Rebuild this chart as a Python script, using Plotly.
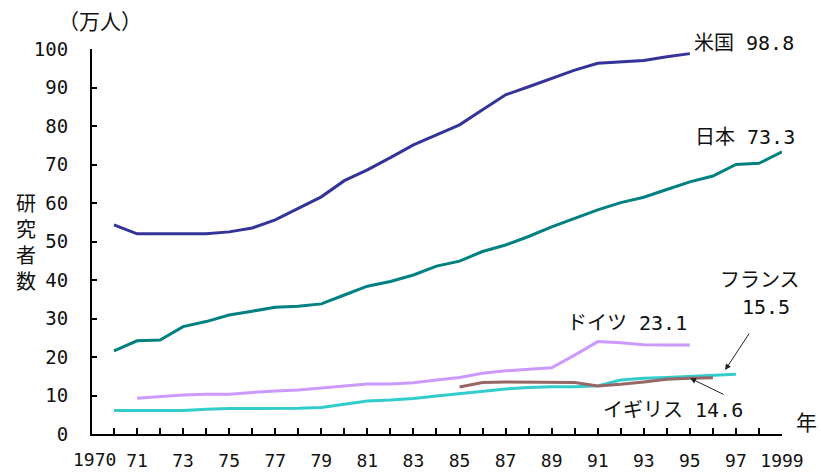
import plotly.graph_objects as go

years_all = list(range(1970, 2000))

us_years = list(range(1970, 1996))
us_vals = [54.3, 52.0, 52.0, 52.0, 52.0, 52.5, 53.5, 55.6, 58.5, 61.6,
           65.8, 68.6, 71.8, 75.1, 77.7, 80.3, 84.2, 88.1, 90.2, 92.4,
           94.5, 96.3, 96.6, 97.0, 98.0, 98.8]

jp_years = list(range(1970, 2000))
jp_vals = [21.6, 24.2, 24.4, 27.9, 29.2, 30.9, 31.9, 32.9, 33.2, 33.8,
           36.1, 38.4, 39.6, 41.3, 43.6, 44.9, 47.4, 49.1, 51.3, 53.8,
           56.0, 58.2, 60.1, 61.5, 63.5, 65.5, 67.0, 70.0, 70.3, 73.3]

de_years = list(range(1971, 1996))
de_vals = [9.3, 9.7, 10.1, 10.3, 10.3, 10.8, 11.2, 11.4, 11.9, 12.5,
           13.0, 13.0, 13.3, 14.0, 14.7, 15.8, 16.4, 16.8, 17.2, 20.5,
           24.0, 23.7, 23.2, 23.1, 23.1]

fr_years = list(range(1970, 1998))
fr_vals = [6.1, 6.1, 6.1, 6.1, 6.4, 6.6, 6.6, 6.6, 6.7, 6.9,
           7.8, 8.6, 8.8, 9.2, 9.9, 10.5, 11.2, 11.7, 12.1, 12.3,
           12.3, 12.5, 14.0, 14.5, 14.7, 15.0, 15.2, 15.5]

uk_years = list(range(1985, 1997))
uk_vals = [12.2, 13.4, 13.5, 13.5, 13.5, 13.4, 12.5, 12.9, 13.5, 14.2, 14.5, 14.6]

y_ticks = list(range(0, 101, 10))
x_label_map = {1971: "71", 1973: "73", 1975: "75",
               1977: "77", 1979: "79", 1981: "81", 1983: "83", 1985: "85",
               1987: "87", 1989: "89", 1991: "91", 1993: "93", 1995: "95",
               1997: "97", 1999: "1999"}
x_ticktext = [x_label_map.get(y, "") for y in years_all]

FONT = "DejaVu Sans Mono, Noto Sans CJK JP"
TXT = "#111111"

fig = go.Figure()
series = [
    (us_years, us_vals, "#333399", "米国"),
    (jp_years, jp_vals, "#008080", "日本"),
    (de_years, de_vals, "#CC99FF", "ドイツ"),
    (fr_years, fr_vals, "#33CCCC", "フランス"),
    (uk_years, uk_vals, "#996666", "イギリス"),
]
for xs, ys, col, name in series:
    fig.add_trace(go.Scatter(x=xs, y=ys, mode="lines", name=name,
                             line=dict(color=col, width=3), showlegend=False))

fig.update_layout(
    width=821, height=474,
    margin=dict(l=92, r=39, t=49, b=40),
    paper_bgcolor="white", plot_bgcolor="white",
    font=dict(family=FONT, size=19, color=TXT),
    xaxis=dict(range=[1969.045, 1999], tickmode="array", tickvals=years_all,
               ticktext=x_ticktext, ticks="inside", ticklen=6, tickwidth=1.5,
               tickcolor="black", showline=True, linecolor="black", linewidth=2,
               showgrid=False, zeroline=False, tickangle=0, ticklabelstandoff=9,
               automargin=False,
               tickfont=dict(family=FONT, size=18, color=TXT)),
    yaxis=dict(range=[0, 100], tickmode="array", tickvals=y_ticks,
               ticks="inside", ticklen=5, tickwidth=1.5, tickcolor="black",
               showline=True, linecolor="black", linewidth=2, showgrid=False,
               zeroline=False, ticklabelstandoff=18, automargin=False,
               tickfont=dict(family=FONT, size=19, color=TXT)),
)

def ann(text, x, y, xanchor="center", size=20):
    fig.add_annotation(text=text, x=x, y=y, xref="paper", yref="paper", xanchor=xanchor,
                       yanchor="middle", showarrow=False,
                       font=dict(family=FONT, size=size, color=TXT))

ann("米国 98.8", 0.8696, 1.0156, xanchor="left")
ann("日本 73.3", 0.871, 0.771, xanchor="left")
ann("ドイツ 23.1", 0.6855, 0.2883, xanchor="left")
ann("フランス", 0.9681, 0.400)
ann("15.5", 0.9768, 0.3299)
ann("イギリス 14.6", 0.7377, 0.0623, xanchor="left")
ann("（万人）", 0.0116, 1.070, size=21)
ann("研<br>究<br>者<br>数", -0.0957, 0.496, size=20)
ann("年", 1.036, 0.0286, size=21)
ann("1970", 0.0043, -0.0675, size=18)

fig.add_annotation(x=1996.53, y=16.6, xref="x", yref="y", ax=25, ay=-38, text="",
                   showarrow=True, arrowhead=2, arrowsize=1.2, arrowwidth=1,
                   arrowcolor="#222222")
fig.add_annotation(x=1995.01, y=14.5, xref="x", yref="y", ax=35, ay=17, text="",
                   showarrow=True, arrowhead=2, arrowsize=1.2, arrowwidth=1,
                   arrowcolor="#222222")

fig.write_html("out.html")
